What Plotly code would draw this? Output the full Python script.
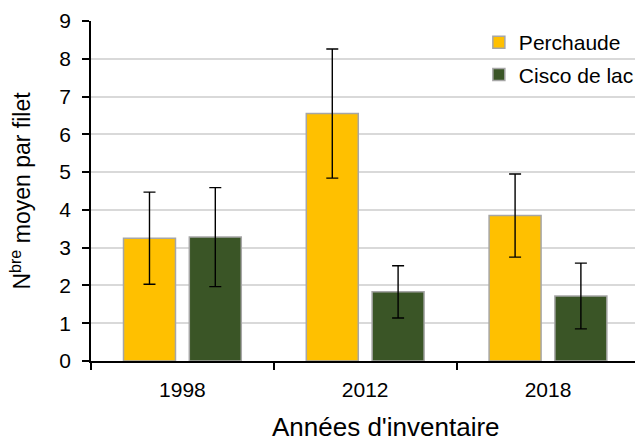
import plotly.graph_objects as go

# Mean catch per net by inventory year
annees = ["1998", "2012", "2018"]
perchaude = [3.25, 6.55, 3.85]
perchaude_err = [1.22, 1.71, 1.10]
cisco = [3.28, 1.83, 1.72]
cisco_err = [1.31, 0.69, 0.87]
y_ticks = [0, 1, 2, 3, 4, 5, 6, 7, 8, 9]

FONT = "Liberation Sans, Arial, sans-serif"
OUTLINE = "#a6a6a6"

fig = go.Figure()
fig.add_trace(go.Bar(
    name="Perchaude", x=annees, y=perchaude, legendgroup="p",
    marker=dict(color="#ffc000", line=dict(color=OUTLINE, width=1.5)),
    error_y=dict(type="data", array=perchaude_err, color="black", thickness=1.4, width=6),
))
fig.add_trace(go.Bar(
    name="Cisco de lac", x=annees, y=cisco, legendgroup="c",
    marker=dict(color="#3a5526", line=dict(color=OUTLINE, width=1.5)),
    error_y=dict(type="data", array=cisco_err, color="black", thickness=1.4, width=6),
))

# x-axis title drawn as a paper annotation below the category labels
fig.add_annotation(
    text="Années d'inventaire", xref="paper", yref="paper",
    x=0.542, y=-0.194, xanchor="center", yanchor="middle",
    showarrow=False, font=dict(size=26),
)

fig.update_layout(
    width=635, height=442,
    margin=dict(l=91, r=0, t=21, b=81, autoexpand=False),
    plot_bgcolor="white", paper_bgcolor="white",
    font=dict(family=FONT, size=20, color="black"),
    barmode="group", bargap=0.28, bargroupgap=0.21,
    showlegend=True,
    legend=dict(x=0.713, y=0.997, xanchor="left", yanchor="top",
                bgcolor="rgba(0,0,0,0)", tracegroupgap=2,
                font=dict(size=21), itemwidth=30),
)
fig.update_xaxes(
    type="category", range=[-0.5, 2.476],
    showline=True, linecolor="black", linewidth=1.5,
    ticks="outside", tickson="boundaries", ticklen=7, tickcolor="black", tickwidth=1.5,
    tickfont=dict(size=21), ticklabelstandoff=9,
    showgrid=False,
)
fig.update_yaxes(
    range=[0, 9], tickvals=y_ticks,
    showline=True, linecolor="black", linewidth=1.5,
    ticks="outside", ticklen=7, tickcolor="black", tickwidth=1.5,
    tickfont=dict(size=21), ticklabelstandoff=7,
    showgrid=True, gridcolor="#d9d9d9", gridwidth=1.5,
    zeroline=False,
    title=dict(text="N<sup>bre</sup> moyen par filet", font=dict(size=23), standoff=22),
)

fig.write_html("out.html")
